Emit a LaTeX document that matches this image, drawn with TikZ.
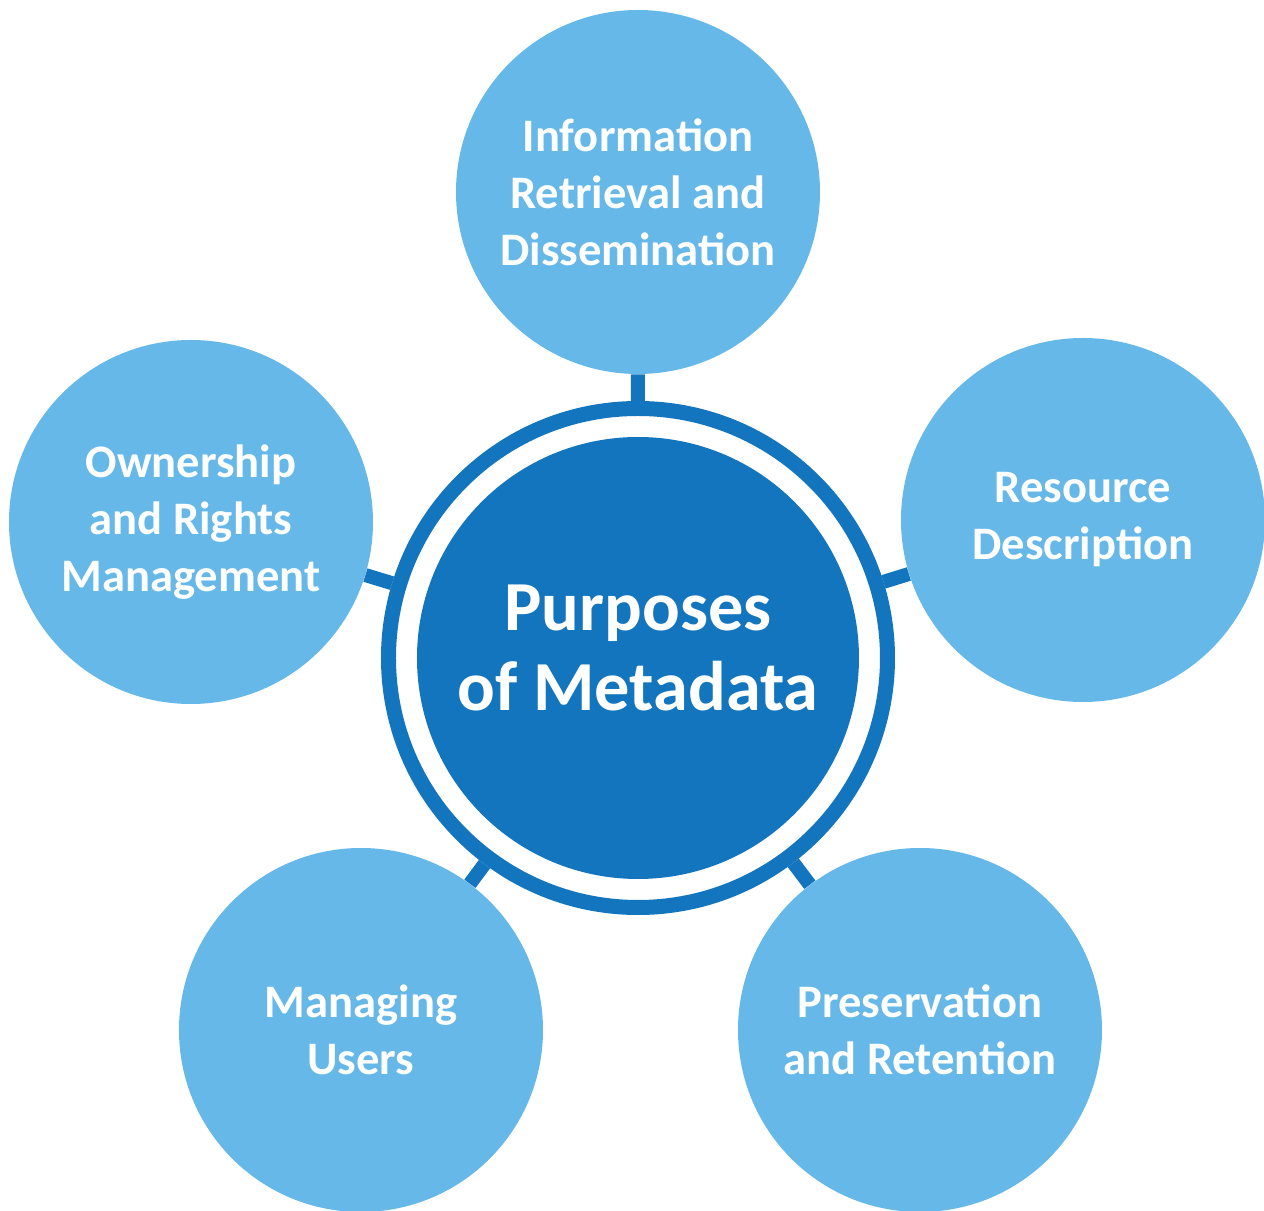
\documentclass[tikz,border=0pt]{standalone}
\usepackage{fontspec}
\setmainfont{Carlito}
\usetikzlibrary{positioning}
\definecolor{darkblue}{HTML}{1275BD}
\definecolor{lightblue}{HTML}{65B8E8}
\tikzset{
purpose/.style={circle, fill=lightblue, minimum size=7.28cm, inner sep=0pt, text=white, align=center, font=\fontsize{26.5}{32.4}\selectfont\bfseries}, % the five outer circles
hub/.style={circle, fill=darkblue, minimum size=8.84cm, inner sep=0pt}, % the filled middle circle
title/.style={text=white, align=center, font=\fontsize{40}{45.5}\selectfont\bfseries}, % text on the middle circle
ring/.style={circle, draw=darkblue, line width=0.3cm, minimum size=9.98cm, inner sep=0pt}, % ring round the middle circle
link/.style={draw=darkblue, line width=0.28cm}, % short bars to the ring
}

\begin{document}
\begin{tikzpicture}
        \useasboundingbox (-12.76,-11.06) rectangle (12.52,13.16);

        \node[ring] (ring) at (0,0) {};
        \node[hub] (hub) at (0,0) {};
        \node[title, above=0.2cm of hub.center, anchor=center] (name) {Purposes\\of Metadata};

        \node[purpose] (retrieval) at (0,9.32) {Information\\Retrieval and\\Dissemination};
        \node[purpose] (description) at (8.9,2.76) {Resource\\Description};
        \node[purpose] (preservation) at (5.64,-7.44) {Preservation\\and Retention};
        \node[purpose] (users) at (-5.54,-7.44) {Managing\\Users};
        \node[purpose] (rights) at (-8.94,2.72) {Ownership\\and Rights\\Management};

        \path[link] (retrieval) -- (ring)
                    (description) -- (ring)
                    (preservation) -- (ring)
                    (users) -- (ring)
                    (rights) -- (ring);
\end{tikzpicture}
\end{document}
